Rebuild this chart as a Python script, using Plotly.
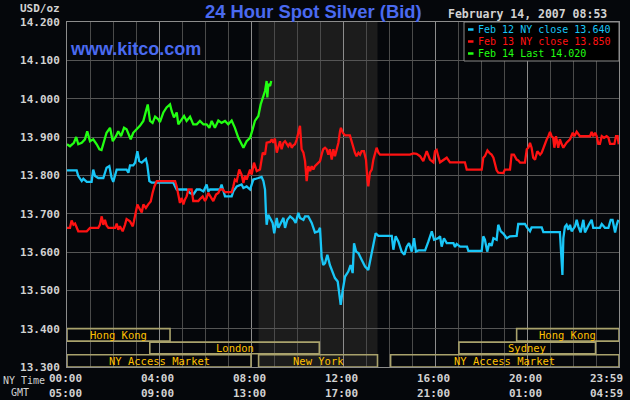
import plotly.graph_objects as go

# ---------------- data (hours since 00:00 NY time, price USD/oz) ----------------
feb12_hours = [0, 0.42, 0.49, 0.64, 0.71, 0.86, 1.07, 1.14, 1.22, 1.36,
               1.58, 1.72, 1.84, 1.94, 2.01, 2.16, 2.59, 2.67, 2.74, 2.88,
               2.96, 3.06, 3.14, 3.25, 3.32, 3.43, 3.49, 3.58, 3.68, 4.62,
               4.70, 4.77, 5.20, 5.35, 5.49, 5.64, 5.78, 5.93, 6.07, 6.14,
               6.22, 6.65, 6.72, 6.80, 6.87, 7.16, 7.23, 7.38, 7.59, 7.67,
               7.81, 7.96, 8.10, 8.32, 8.46, 8.54, 8.61, 8.65, 8.68, 8.75,
               8.83, 8.94, 9.01, 9.12, 9.19, 9.29, 9.41, 9.48, 9.58, 9.70,
               9.84, 9.94, 10.06, 10.13, 10.28, 10.35, 10.49, 10.64, 10.78, 10.93,
               11.00, 11.07, 11.14, 11.22, 11.32, 11.43, 11.55, 11.65, 11.77, 11.84,
               11.90, 11.99, 12.09, 12.23, 12.33, 12.42, 12.48, 12.57, 12.67, 12.81,
               12.96, 13.10, 13.20, 13.32, 13.42, 13.54, 14.12, 14.19, 14.29, 14.41,
               14.55, 14.67, 14.77, 14.87, 14.99, 15.09, 15.17, 15.28, 15.57, 15.71,
               15.78, 15.86, 15.96, 16.14, 16.22, 16.29, 16.39, 16.51, 16.80, 16.87,
               16.94, 17.09, 17.39, 17.45, 18.03, 18.10, 18.17, 18.27, 18.36, 18.46,
               18.54, 18.68, 18.75, 18.86, 18.97, 19.12, 19.26, 19.41, 19.55, 19.62,
               19.91, 19.99, 20.13, 20.20, 20.64, 20.71, 21.43, 21.51, 21.54, 21.58,
               21.65, 21.72, 21.80, 21.87, 21.94, 22.09, 22.16, 22.23, 22.33, 22.45,
               22.52, 22.67, 22.81, 22.88, 23.17, 23.25, 23.39, 23.54, 23.64, 23.72,
               23.83, 23.90, 23.97]
feb12_price = [13.813, 13.813, 13.798, 13.785, 13.791, 13.783, 13.783, 13.815, 13.798, 13.793,
               13.793, 13.820, 13.824, 13.793, 13.783, 13.815, 13.815, 13.807, 13.826, 13.826,
               13.833, 13.863, 13.837, 13.833, 13.837, 13.843, 13.828, 13.785, 13.781, 13.781,
               13.771, 13.763, 13.763, 13.754, 13.750, 13.763, 13.763, 13.758, 13.776, 13.758,
               13.763, 13.763, 13.776, 13.758, 13.745, 13.745, 13.758, 13.771, 13.776, 13.767,
               13.771, 13.763, 13.789, 13.793, 13.796, 13.785, 13.763, 13.702, 13.671, 13.697,
               13.689, 13.676, 13.649, 13.689, 13.663, 13.676, 13.689, 13.663, 13.684, 13.693,
               13.686, 13.676, 13.702, 13.689, 13.684, 13.693, 13.693, 13.676, 13.651, 13.654,
               13.663, 13.588, 13.566, 13.571, 13.593, 13.566, 13.545, 13.532, 13.523, 13.492,
               13.462, 13.501, 13.536, 13.549, 13.566, 13.545, 13.623, 13.601, 13.597, 13.580,
               13.562, 13.553, 13.584, 13.614, 13.649, 13.642, 13.642, 13.606, 13.641, 13.627,
               13.601, 13.593, 13.614, 13.623, 13.601, 13.636, 13.601, 13.604, 13.604, 13.627,
               13.641, 13.654, 13.632, 13.636, 13.641, 13.614, 13.636, 13.623, 13.623, 13.613,
               13.621, 13.614, 13.614, 13.603, 13.603, 13.641, 13.632, 13.601, 13.623, 13.616,
               13.636, 13.632, 13.671, 13.654, 13.648, 13.636, 13.641, 13.642, 13.642, 13.673,
               13.673, 13.665, 13.654, 13.664, 13.664, 13.652, 13.652, 13.571, 13.540, 13.636,
               13.666, 13.671, 13.658, 13.671, 13.654, 13.667, 13.684, 13.667, 13.651, 13.684,
               13.651, 13.669, 13.684, 13.663, 13.663, 13.673, 13.663, 13.663, 13.684, 13.684,
               13.651, 13.671, 13.684]

feb13_hours = [0, 0.13, 0.20, 0.28, 0.35, 0.42, 0.49, 0.86, 0.93, 1.00,
               1.36, 1.43, 1.51, 1.58, 1.65, 1.72, 1.80, 2.09, 2.16, 2.23,
               2.30, 2.42, 2.52, 2.59, 2.74, 2.86, 2.91, 3.00, 3.06, 3.14,
               3.25, 3.32, 3.43, 3.54, 3.64, 3.72, 3.80, 3.90, 4.70, 4.77,
               4.84, 4.91, 4.99, 5.06, 5.13, 5.20, 5.28, 5.42, 5.49, 5.71,
               5.78, 5.90, 6.00, 6.07, 6.14, 6.25, 6.36, 6.48, 6.58, 6.65,
               6.77, 6.87, 7.16, 7.23, 7.30, 7.38, 7.49, 7.59, 7.67, 7.74,
               7.81, 7.96, 8.03, 8.13, 8.25, 8.39, 8.51, 8.61, 8.68, 8.83,
               8.90, 8.97, 9.04, 9.12, 9.19, 9.26, 9.33, 9.41, 9.48, 9.55,
               9.62, 9.70, 9.77, 9.84, 9.91, 9.99, 10.06, 10.13, 10.20, 10.28,
               10.35, 10.42, 10.49, 10.57, 10.64, 10.71, 10.78, 10.86, 10.93, 11.00,
               11.07, 11.14, 11.22, 11.29, 11.36, 11.43, 11.51, 11.58, 11.65, 11.72,
               11.80, 11.87, 11.91, 11.99, 12.09, 12.30, 12.38, 12.45, 12.52, 12.59,
               12.67, 12.74, 12.81, 12.91, 13.00, 13.06, 13.10, 13.17, 13.25, 13.32,
               13.39, 13.46, 13.54, 13.61, 14.91, 15.06, 15.20, 15.35, 15.49, 15.64,
               15.78, 15.93, 16.00, 16.07, 16.14, 16.22, 16.51, 16.65, 17.30, 17.38,
               18.03, 18.10, 18.17, 18.28, 18.39, 18.46, 18.54, 18.61, 18.68, 18.75,
               18.97, 19.04, 19.26, 19.33, 19.43, 19.55, 19.62, 19.70, 19.91, 19.99,
               20.06, 20.13, 20.20, 20.27, 20.35, 20.45, 20.57, 20.64, 20.71, 20.78,
               20.86, 20.93, 21.00, 21.07, 21.14, 21.19, 21.26, 21.36, 21.43, 21.51,
               21.58, 21.72, 21.87, 21.99, 22.06, 22.16, 22.23, 22.30, 22.74, 22.81,
               22.88, 22.96, 23.03, 23.10, 23.17, 23.25, 23.35, 23.46, 23.54, 23.61,
               23.80, 23.87, 23.94, 23.99]
feb13_price = [13.663, 13.663, 13.682, 13.671, 13.674, 13.665, 13.654, 13.654, 13.660, 13.663,
               13.663, 13.671, 13.693, 13.671, 13.684, 13.669, 13.663, 13.663, 13.674, 13.658,
               13.667, 13.654, 13.671, 13.686, 13.680, 13.667, 13.680, 13.706, 13.724, 13.715,
               13.703, 13.724, 13.715, 13.725, 13.732, 13.754, 13.771, 13.785, 13.785, 13.771,
               13.745, 13.728, 13.741, 13.724, 13.737, 13.745, 13.763, 13.763, 13.733, 13.733,
               13.738, 13.745, 13.733, 13.741, 13.754, 13.745, 13.733, 13.750, 13.754, 13.763,
               13.763, 13.756, 13.756, 13.771, 13.789, 13.785, 13.815, 13.802, 13.780, 13.798,
               13.789, 13.815, 13.802, 13.833, 13.811, 13.815, 13.859, 13.854, 13.885, 13.887,
               13.894, 13.885, 13.896, 13.859, 13.876, 13.889, 13.868, 13.885, 13.889, 13.881,
               13.876, 13.885, 13.872, 13.878, 13.881, 13.894, 13.915, 13.929, 13.868, 13.859,
               13.837, 13.785, 13.824, 13.811, 13.824, 13.815, 13.824, 13.828, 13.833, 13.837,
               13.854, 13.868, 13.872, 13.868, 13.854, 13.868, 13.841, 13.868, 13.850, 13.868,
               13.885, 13.915, 13.924, 13.911, 13.904, 13.904, 13.885, 13.868, 13.859, 13.850,
               13.859, 13.854, 13.863, 13.863, 13.841, 13.789, 13.771, 13.807, 13.815, 13.841,
               13.854, 13.872, 13.859, 13.854, 13.854, 13.857, 13.856, 13.850, 13.837, 13.863,
               13.841, 13.834, 13.863, 13.866, 13.850, 13.834, 13.846, 13.834, 13.834, 13.815,
               13.815, 13.846, 13.850, 13.865, 13.857, 13.854, 13.846, 13.828, 13.813, 13.807,
               13.806, 13.815, 13.815, 13.854, 13.854, 13.841, 13.839, 13.833, 13.833, 13.868,
               13.872, 13.885, 13.872, 13.846, 13.841, 13.863, 13.854, 13.859, 13.872, 13.885,
               13.894, 13.902, 13.913, 13.902, 13.898, 13.872, 13.902, 13.872, 13.894, 13.881,
               13.872, 13.885, 13.894, 13.911, 13.902, 13.914, 13.907, 13.902, 13.902, 13.913,
               13.902, 13.911, 13.902, 13.882, 13.882, 13.902, 13.898, 13.902, 13.898, 13.882,
               13.882, 13.902, 13.902, 13.881]

feb14_hours = [0, 0.13, 0.30, 0.40, 0.49, 0.64, 0.78, 0.88, 1.00, 1.14,
               1.29, 1.41, 1.50, 1.58, 1.72, 1.87, 1.99, 2.13, 2.23, 2.35,
               2.48, 2.59, 2.67, 2.77, 2.88, 3.03, 3.17, 3.32, 3.43, 3.51,
               3.61, 3.72, 3.83, 3.97, 4.04, 4.19, 4.33, 4.48, 4.55, 4.65,
               4.77, 4.84, 4.99, 5.09, 5.20, 5.35, 5.49, 5.64, 5.78, 5.93,
               6.07, 6.19, 6.29, 6.43, 6.58, 6.72, 6.87, 7.01, 7.16, 7.30,
               7.45, 7.59, 7.67, 7.81, 7.96, 8.07, 8.17, 8.32, 8.42, 8.54,
               8.61, 8.68, 8.71, 8.75, 8.83, 8.88]
feb14_price = [13.881, 13.876, 13.885, 13.900, 13.881, 13.885, 13.894, 13.915, 13.889, 13.894,
               13.881, 13.868, 13.866, 13.881, 13.911, 13.924, 13.889, 13.902, 13.915, 13.902,
               13.924, 13.920, 13.907, 13.894, 13.911, 13.920, 13.929, 13.942, 13.972, 13.985,
               13.942, 13.937, 13.953, 13.946, 13.939, 13.964, 13.977, 13.985, 13.968, 13.951,
               13.964, 13.933, 13.946, 13.955, 13.942, 13.953, 13.933, 13.933, 13.942, 13.933,
               13.933, 13.924, 13.942, 13.924, 13.943, 13.937, 13.942, 13.933, 13.943, 13.924,
               13.898, 13.881, 13.872, 13.889, 13.898, 13.920, 13.942, 13.955, 13.985, 14.007,
               14.020, 14.046, 14.003, 14.038, 14.033, 14.046]

series_names = ["Feb 12 NY close 13.640", "Feb 13 NY close 13.850", "Feb 14 Last 14.020"]
series_colors = ["#19C6F7", "#FF1212", "#22FF12"]

y_ticks = [13.3, 13.4, 13.5, 13.6, 13.7, 13.8, 13.9, 14.0, 14.1, 14.2]
x_tick_hours = [0, 4, 8, 12, 16, 20, 24]
ny_time_labels = ["00:00", "04:00", "08:00", "12:00", "16:00", "20:00", "23:59"]
gmt_labels = ["05:00", "09:00", "13:00", "17:00", "21:00", "01:00", "04:59"]

# trading sessions: name, start hour, end hour, row (0 = top row)
session_names = ["Hong Kong", "London", "NY Access Market", "New York",
                 "NY Access Market", "Sydney", "Hong Kong"]
session_start = [0, 3.6, 0, 8.33, 14.07, 17.04, 19.55]
session_end = [4.48, 10.97, 8.0, 13.5, 24, 22.98, 24]
session_row = [0, 1, 2, 2, 2, 1, 0]

ny_shade = (8.33, 13.5)

title_text = "24 Hour Spot Silver (Bid)"
date_text = "February 14, 2007 08:53"

# ---------------- layout helpers ----------------
W, H = 630, 400
L, R, T, B = 67, 619, 22, 367


def px(x):
    return (x - L) / (R - L)


def py(y):
    return (B - y) / (B - T)


BG = "#05070B"
MONO = "DejaVu Sans Mono"
GREY_TXT = "#D2D2D2"
SESS_TXT = "#FFC000"
SESS_LINE = "#A9A26C"
BLUE = "#4A6AF0"

fig = go.Figure()
for hrs, prc, name, col in zip([feb12_hours, feb13_hours, feb14_hours],
                               [feb12_price, feb13_price, feb14_price],
                               series_names, series_colors):
    fig.add_trace(go.Scatter(x=hrs, y=prc, mode="lines", name=name,
                             line=dict(color=col, width=2.3), showlegend=False,
                             hoverinfo="skip"))

shapes = []
# NY session shading
shapes.append(dict(type="rect", xref="x", yref="y", x0=ny_shade[0], x1=ny_shade[1],
                   y0=13.3, y1=14.2, fillcolor="#1C1C1C", line=dict(width=0),
                   layer="below"))

# session boxes
row_bounds = [(13.3676, 13.4), (13.3346, 13.3650), (13.3, 13.3320)]
annotations = []
for nm, s, e, r in zip(session_names, session_start, session_end, session_row):
    y0, y1 = row_bounds[r]
    shapes.append(dict(type="rect", xref="x", yref="y", x0=s, x1=e, y0=y0, y1=y1,
                       line=dict(color=SESS_LINE, width=1.6), fillcolor="rgba(0,0,0,0)",
                       layer="above"))
    annotations.append(dict(x=(s + e) / 2, y=(y0 + y1) / 2, xref="x", yref="y",
                            text=nm, showarrow=False,
                            font=dict(family=MONO, size=10.5, color=SESS_TXT)))

# x labels (two rows)
for i, (h, a, g) in enumerate(zip(x_tick_hours, ny_time_labels, gmt_labels)):
    anchor = "right" if h == 24 else "center"
    shift = 6 if h == 24 else -2
    annotations.append(dict(x=h, y=py(378), xref="x", yref="paper", text=a,
                            showarrow=False, xanchor=anchor, yanchor="middle", xshift=shift,
                            font=dict(family=MONO, size=11, color=GREY_TXT, weight="bold")))
    annotations.append(dict(x=h, y=py(393), xref="x", yref="paper", text=g,
                            showarrow=False, xanchor=anchor, yanchor="middle", xshift=shift,
                            font=dict(family=MONO, size=11, color=GREY_TXT, weight="bold")))

annotations.append(dict(x=px(24), y=py(380), xref="paper", yref="paper", text="NY Time",
                        showarrow=False, xanchor="center", yanchor="middle",
                        font=dict(family=MONO, size=10, color=GREY_TXT)))
annotations.append(dict(x=px(20), y=py(392), xref="paper", yref="paper", text="GMT",
                        showarrow=False, xanchor="center", yanchor="middle",
                        font=dict(family=MONO, size=10, color=GREY_TXT)))
annotations.append(dict(x=px(62), y=py(8), xref="paper", yref="paper", text="USD/oz",
                        showarrow=False, xanchor="right", yanchor="middle",
                        font=dict(family=MONO, size=11, color=GREY_TXT, weight="bold")))

# titles
annotations.append(dict(x=px(313.5), y=py(11), xref="paper", yref="paper", text=title_text,
                        showarrow=False, xanchor="center", yanchor="middle",
                        font=dict(family="Liberation Sans", size=18.4, color=BLUE,
                                  weight="bold")))
annotations.append(dict(x=px(68), y=py(49), xref="paper", yref="paper", text="www.kitco.com",
                        showarrow=False, xanchor="left", yanchor="middle",
                        font=dict(family="Liberation Sans", size=18, color=BLUE,
                                  weight="bold")))
annotations.append(dict(x=px(609), y=py(14), xref="paper", yref="paper", text=date_text,
                        showarrow=False, xanchor="right", yanchor="middle",
                        font=dict(family=MONO, size=11.5, color=GREY_TXT, weight="bold")))

# legend box
shapes.append(dict(type="rect", xref="paper", yref="paper", x0=px(464), x1=px(619),
                   y0=py(61), y1=py(22), fillcolor="#000000",
                   line=dict(color="#8A8A8A", width=1), layer="above"))
legend_rows = [29.5, 41.5, 53.5]
for nm, col, ry in zip(series_names, series_colors, legend_rows):
    shapes.append(dict(type="line", xref="paper", yref="paper", x0=px(468), x1=px(473.5),
                       y0=py(ry), y1=py(ry), line=dict(color=col, width=2.5), layer="above"))
    annotations.append(dict(x=px(476), y=py(ry), xref="paper", yref="paper", text=nm,
                            showarrow=False, xanchor="left", yanchor="middle",
                            font=dict(family=MONO, size=10, color=col)))

fig.update_layout(
    width=W, height=H,
    margin=dict(l=L, r=W - R, t=T, b=H - B, pad=0),
    paper_bgcolor=BG, plot_bgcolor=BG,
    shapes=shapes, annotations=annotations,
    showlegend=False,
    xaxis=dict(range=[0, 24], tickmode="linear", tick0=0, dtick=4,
               showticklabels=False, ticks="", showgrid=True, gridcolor="#8C8C8C",
               gridwidth=1, zeroline=False, showline=True, linecolor="#8C8C8C",
               mirror=True,
               minor=dict(dtick=1, tick0=0, showgrid=True, gridcolor="#4A4A4A", gridwidth=1)),
    yaxis=dict(range=[13.3, 14.2], tickmode="array", tickvals=y_ticks,
               ticktext=[f"{v:.3f}" for v in y_ticks], ticks="",
               tickfont=dict(family=MONO, size=11, color=GREY_TXT, weight="bold"),
               showgrid=True, gridcolor="#555555", gridwidth=1, zeroline=False,
               showline=True, linecolor="#8C8C8C", mirror=True, ticklabelstandoff=4),
)

fig.write_html(
    "out.html",
    config={"displayModeBar": False},
    post_script="document.body.style.margin='0';document.body.style.background='" + BG + "';",
)
